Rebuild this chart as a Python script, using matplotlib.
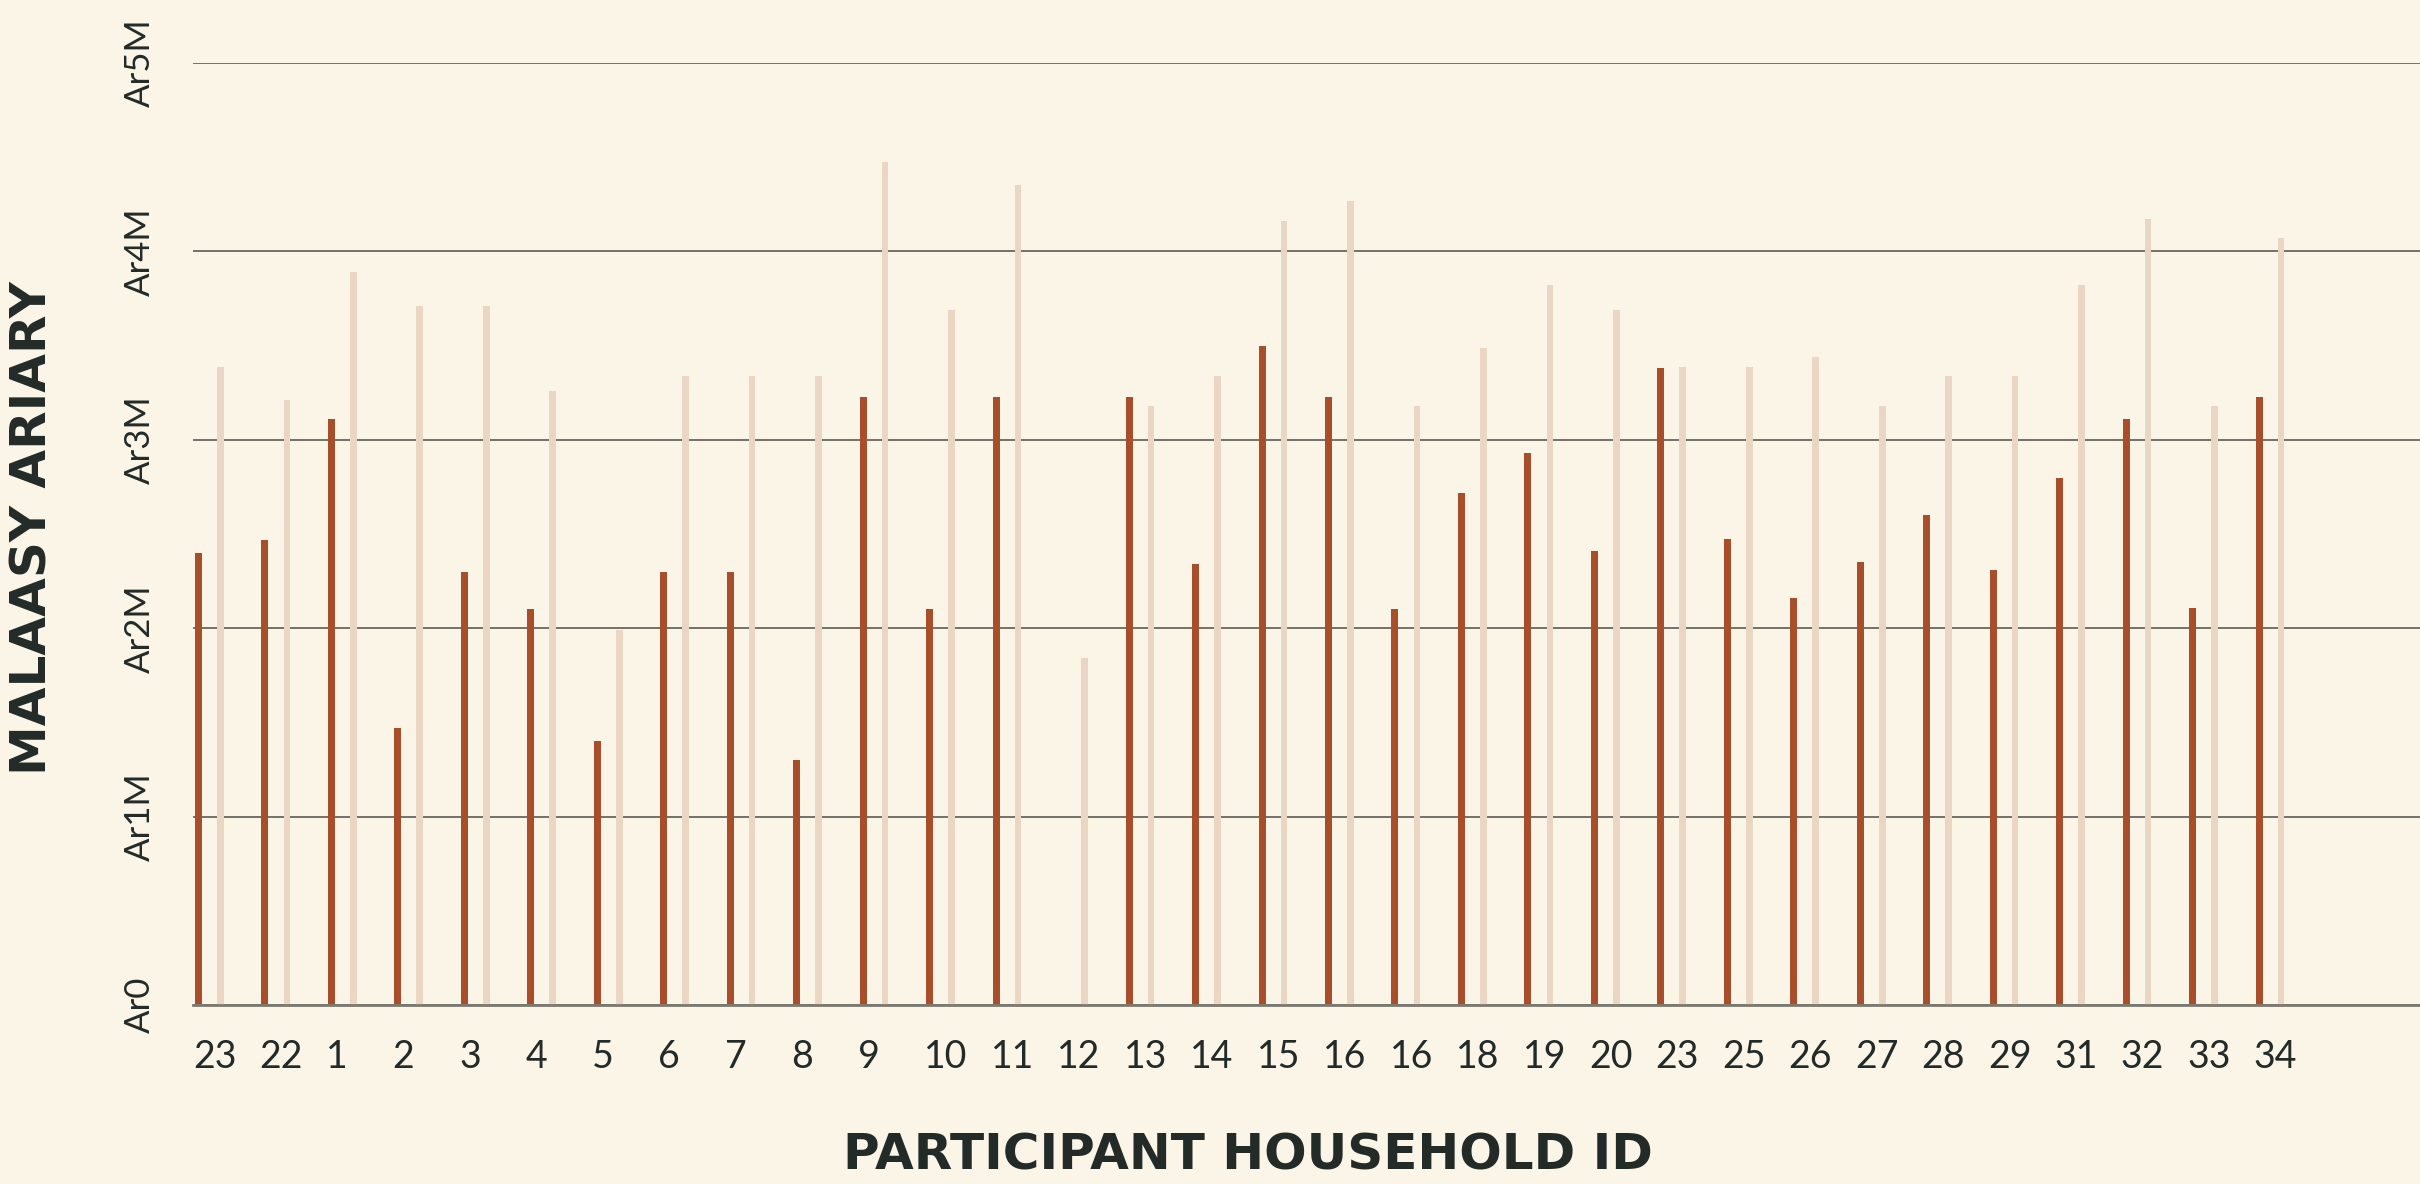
import matplotlib.pyplot as plt
import numpy as np

# Household IDs as they appear on the axis
households = ["23", "22", "1", "2", "3", "4", "5", "6", "7", "8", "9", "10", "11", "12",
              "13", "14", "15", "16", "16", "18", "19", "20", "23", "25", "26", "27",
              "28", "29", "31", "32", "33", "34"]

# values in millions of Ariary
series_dark = [2.40, 2.47, 3.11, 1.47, 2.30, 2.10, 1.40, 2.30, 2.30, 1.30, 3.23, 2.10,
               3.23, 0.0, 3.23, 2.34, 3.50, 3.23, 2.10, 2.72, 2.93, 2.41, 3.38, 2.475,
               2.16, 2.35, 2.60, 2.31, 2.80, 3.11, 2.11, 3.23]
series_light = [3.385, 3.21, 3.89, 3.71, 3.71, 3.26, 1.99, 3.34, 3.34, 3.34, 4.475, 3.69,
                4.35, 1.84, 3.18, 3.34, 4.16, 4.27, 3.18, 3.49, 3.82, 3.69, 3.385, 3.385,
                3.44, 3.18, 3.34, 3.34, 3.82, 4.17, 3.18, 4.07]

y_ticks = [0, 1, 2, 3, 4, 5]
y_tick_labels = ["Ar0", "Ar1M", "Ar2M", "Ar3M", "Ar4M", "Ar5M"]

BG = "#fbf5e8"
DARK = "#a84e2a"
LIGHT = "#ead6c3"
TEXT = "#232b28"

fig = plt.figure(figsize=(24.2, 11.84), dpi=100, facecolor=BG)
ax = fig.add_axes([0.0798, 0.151, 0.9202, 0.7958])
ax.set_facecolor(BG)

x = np.arange(len(households))
vals_dark = np.array(series_dark) * 1e6
vals_light = np.array(series_light) * 1e6
# first bar sits right on the axis edge, so don't clip it
ax.bar(x, vals_dark, width=0.105, color=DARK, zorder=3, clip_on=False)
ax.bar(x + 0.33, vals_light, width=0.1, color=LIGHT, zorder=2)

ax.set_ylim(0, 5e6)
ax.set_xlim(0.01, 33.42)
ax.set_yticks([v * 1e6 for v in y_ticks])
ax.set_yticklabels(y_tick_labels, rotation=90, va="center", fontsize=25,
                   family="Lato", color=TEXT)
ax.set_xticks(x - 0.08)
ax.set_xticklabels(households, ha="left", fontsize=27, family="Lato", color=TEXT)
ax.tick_params(axis="both", length=0)
ax.tick_params(axis="y", pad=27)
ax.tick_params(axis="x", pad=24)

ax.grid(axis="y", color="#4d4d48", linewidth=1.1, zorder=1)
ax.set_axisbelow(True)
for side in ["top", "right", "left"]:
    ax.spines[side].set_visible(False)
ax.spines["bottom"].set_color("#7b7a70")
ax.spines["bottom"].set_linewidth(2)
ax.spines["bottom"].set_zorder(4)

fig.text(0.5155, 0.024, "PARTICIPANT HOUSEHOLD ID", ha="center", va="center",
         fontsize=36, fontweight="bold", family="DejaVu Sans", color=TEXT)
fig.text(0.0135, 0.554, "MALAASY ARIARY", ha="center", va="center", rotation=90,
         fontsize=36, fontweight="bold", family="DejaVu Sans", color=TEXT)

fig.savefig("out.png", dpi=100, facecolor=BG)
